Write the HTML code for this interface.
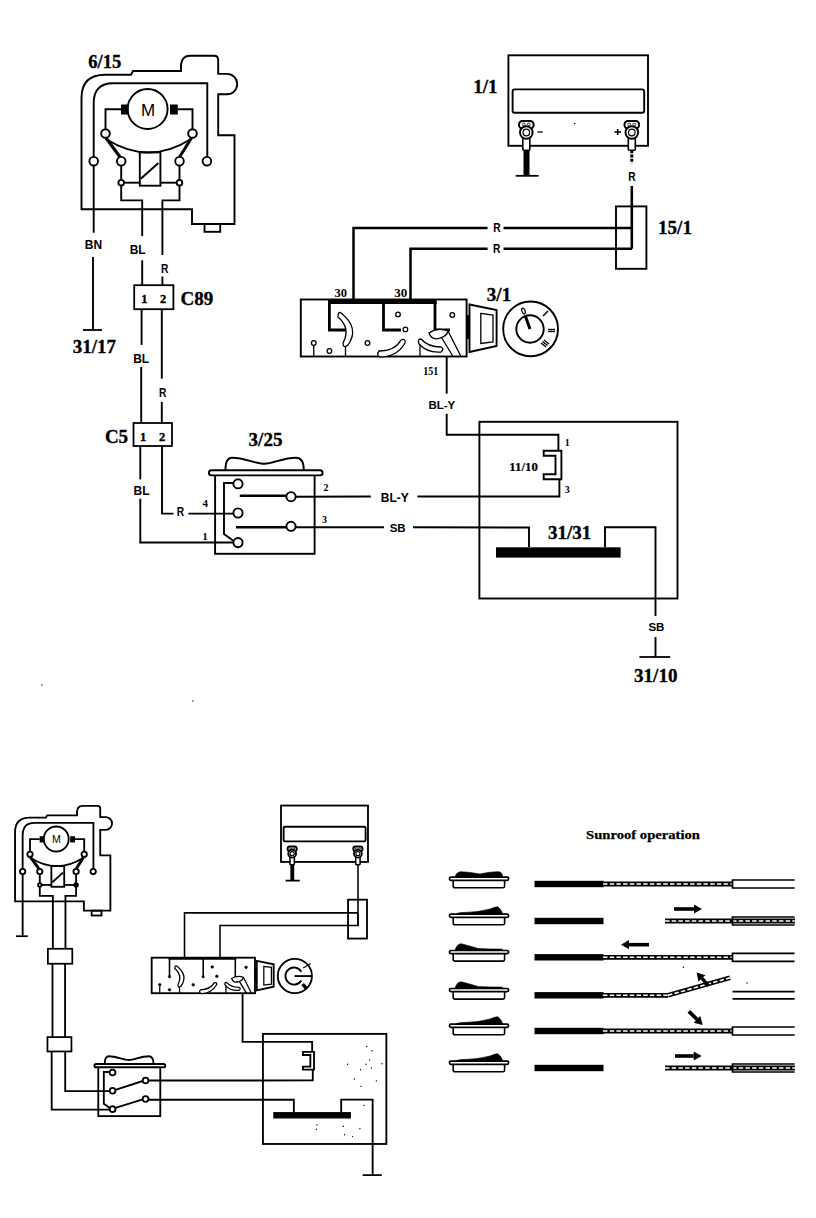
<!DOCTYPE html>
<html><head><meta charset="utf-8"><style>html,body{margin:0;padding:0;background:#fff;}svg{display:block;}</style></head>
<body><svg width="816" height="1218" viewBox="0 0 816 1218">
<rect width="816" height="1218" fill="#fff"/>
<path d="M81.5,209.2 V98 Q81.5,74.8 105,74.8 H131 L133,71 H181 V64.6 Q182,55.8 190,55.8 H214 Q218.2,55.8 218.2,60 V73.9 H227 A10.2,10.2 0 0 1 227,94.3 H218.2 V135.2 H234.5 V224 H192 V209.2 Z" fill="none" stroke="#000" stroke-width="1.9" />
<rect x="204.5" y="224" width="15.7" height="7.8" rx="0" fill="none" stroke="#000" stroke-width="1.9"/>
<path d="M93.7,156.9 V103 Q93.7,83.2 113,83.2 H207.3 V156.9" fill="none" stroke="#000" stroke-width="1.9" />
<circle cx="147.6" cy="109" r="20" fill="#fff" stroke="#000" stroke-width="1.9"/>
<text x="148" y="115.5" font-family="Liberation Sans" font-size="17" text-anchor="middle">M</text>
<rect x="121" y="104.5" width="7.5" height="10" fill="#000"/>
<rect x="170" y="104.5" width="7.8" height="10" fill="#000"/>
<path d="M121,109.2 L105.5,109.2 L105.5,129.2" fill="none" stroke="#000" stroke-width="1.9" />
<path d="M177.8,109.2 L192.5,109.2 L192.5,129.2" fill="none" stroke="#000" stroke-width="1.9" />
<path d="M106,138 L120,157" fill="none" stroke="#000" stroke-width="3" />
<path d="M191.5,138 L179.5,157" fill="none" stroke="#000" stroke-width="3" />
<path d="M106,139 Q148.6,166 191,139" fill="none" stroke="#000" stroke-width="1.9" />
<circle cx="105.5" cy="133.5" r="4.3" fill="#fff" stroke="#000" stroke-width="1.9"/>
<circle cx="192.5" cy="133.5" r="4.3" fill="#fff" stroke="#000" stroke-width="1.9"/>
<circle cx="93.7" cy="161.2" r="4.3" fill="#fff" stroke="#000" stroke-width="1.9"/>
<circle cx="121.2" cy="161.2" r="4.3" fill="#fff" stroke="#000" stroke-width="1.9"/>
<circle cx="179.5" cy="161.2" r="4.3" fill="#fff" stroke="#000" stroke-width="1.9"/>
<circle cx="206.9" cy="161.2" r="4.3" fill="#fff" stroke="#000" stroke-width="1.9"/>
<rect x="139.8" y="152.4" width="20.6" height="33.3" rx="0" fill="none" stroke="#000" stroke-width="1.9"/>
<path d="M140.8,178.8 L158.4,163" fill="none" stroke="#000" stroke-width="1.9" />
<path d="M121.2,165.5 L121.2,180" fill="none" stroke="#000" stroke-width="1.9" />
<path d="M179.5,165.5 L179.5,180" fill="none" stroke="#000" stroke-width="1.9" />
<path d="M124,182.7 L139.8,182.7" fill="none" stroke="#000" stroke-width="1.9" />
<path d="M160.4,182.7 L177,182.7" fill="none" stroke="#000" stroke-width="1.9" />
<circle cx="121.2" cy="182.7" r="2.8" fill="#fff" stroke="#000" stroke-width="1.9"/>
<circle cx="179.5" cy="182.7" r="2.8" fill="#fff" stroke="#000" stroke-width="1.9"/>
<path d="M121.2,185.5 L121.2,200.4 L142.2,200.4 L142.2,236" fill="none" stroke="#000" stroke-width="1.9" />
<path d="M179.5,185.5 L179.5,200.4 L162.4,200.4 L162.4,255" fill="none" stroke="#000" stroke-width="1.9" />
<path d="M93.7,165.5 L93.7,232.7" fill="none" stroke="#000" stroke-width="1.9" />
<path d="M93,257 L93,330" fill="none" stroke="#000" stroke-width="1.9" />
<text x="93.5" y="248.9" font-family="Liberation Sans" font-size="12" font-weight="bold" text-anchor="middle" >BN</text>
<path d="M83,330 L102,330" fill="none" stroke="#000" stroke-width="1.8" />
<text x="94.3" y="352.5" font-family="Liberation Serif" font-size="19" font-weight="bold" text-anchor="middle" stroke="#000" stroke-width="0.35">31/17</text>
<text x="104.7" y="67.6" font-family="Liberation Serif" font-size="18.5" font-weight="bold" text-anchor="middle" stroke="#000" stroke-width="0.35">6/15</text>
<text x="137.7" y="254.3" font-family="Liberation Sans" font-size="12" font-weight="bold" text-anchor="middle" >BL</text>
<text x="164.6" y="272.9" font-family="Liberation Sans" font-size="12" font-weight="bold" text-anchor="middle" textLength="7.4" lengthAdjust="spacingAndGlyphs">R</text>
<path d="M142.2,260.3 L142.2,285.2" fill="none" stroke="#000" stroke-width="1.9" />
<path d="M162.4,276.5 L162.4,285.2" fill="none" stroke="#000" stroke-width="1.9" />
<rect x="134.2" y="285.2" width="39.2" height="24" rx="0" fill="none" stroke="#000" stroke-width="1.8"/>
<text x="144.3" y="303" font-family="Liberation Serif" font-size="12.5" font-weight="bold" text-anchor="middle" stroke="#000" stroke-width="0.35">1</text>
<text x="163" y="303" font-family="Liberation Serif" font-size="12.5" font-weight="bold" text-anchor="middle" stroke="#000" stroke-width="0.35">2</text>
<text x="196.8" y="304.5" font-family="Liberation Serif" font-size="19" font-weight="bold" text-anchor="middle" stroke="#000" stroke-width="0.35">C89</text>
<path d="M141.6,309.2 L141.6,344.9" fill="none" stroke="#000" stroke-width="1.9" />
<path d="M141.2,367 L141.2,423" fill="none" stroke="#000" stroke-width="1.9" />
<path d="M161.8,309.2 L161.8,378.7" fill="none" stroke="#000" stroke-width="1.9" />
<path d="M161.8,402 L161.8,423" fill="none" stroke="#000" stroke-width="1.9" />
<text x="141.2" y="362.7" font-family="Liberation Sans" font-size="12" font-weight="bold" text-anchor="middle" >BL</text>
<text x="162.6" y="396.7" font-family="Liberation Sans" font-size="12" font-weight="bold" text-anchor="middle" textLength="7.4" lengthAdjust="spacingAndGlyphs">R</text>
<rect x="133.5" y="423" width="38.5" height="23" rx="0" fill="none" stroke="#000" stroke-width="1.8"/>
<text x="143" y="440.5" font-family="Liberation Serif" font-size="12.5" font-weight="bold" text-anchor="middle" stroke="#000" stroke-width="0.35">1</text>
<text x="162" y="440.5" font-family="Liberation Serif" font-size="12.5" font-weight="bold" text-anchor="middle" stroke="#000" stroke-width="0.35">2</text>
<text x="116.5" y="442.5" font-family="Liberation Serif" font-size="19" font-weight="bold" text-anchor="middle" stroke="#000" stroke-width="0.35">C5</text>
<path d="M140.3,446 L140.3,479.4" fill="none" stroke="#000" stroke-width="1.9" />
<path d="M140.3,498.7 L140.3,542.5 L233,542.5" fill="none" stroke="#000" stroke-width="1.9" />
<path d="M162,446 L162,513.6 L173.5,513.6" fill="none" stroke="#000" stroke-width="1.9" />
<path d="M188.4,513.6 L233,513.6" fill="none" stroke="#000" stroke-width="1.9" />
<text x="141.5" y="494.8" font-family="Liberation Sans" font-size="12" font-weight="bold" text-anchor="middle" >BL</text>
<text x="180.4" y="516.3" font-family="Liberation Sans" font-size="12" font-weight="bold" text-anchor="middle" textLength="7.4" lengthAdjust="spacingAndGlyphs">R</text>
<text x="205.2" y="507" font-family="Liberation Serif" font-size="11" font-weight="bold" text-anchor="middle" >4</text>
<text x="205" y="540" font-family="Liberation Serif" font-size="11" font-weight="bold" text-anchor="middle" >1</text>
<text x="265.5" y="445.5" font-family="Liberation Serif" font-size="19" font-weight="bold" text-anchor="middle" stroke="#000" stroke-width="0.35">3/25</text>
<rect x="215.1" y="474" width="99.5" height="79.8" rx="0" fill="none" stroke="#000" stroke-width="1.9"/>
<path d="M211.5,470.2 H320 Q322.6,470.2 322.6,472.8 Q322.6,475.4 320,475.4 H211.5 Q208.9,475.4 208.9,472.8 Q208.9,470.2 211.5,470.2 Z" fill="#fff" stroke="#000" stroke-width="1.9" />
<path d="M225.4,470.2 C225.4,462 227,457.7 232,457.7 C245,457.7 255,463.7 264.3,463.7 C273,463.7 283,457.7 296,457.7 C301,457.7 303.8,462 303.8,470.2" fill="none" stroke="#000" stroke-width="1.9" />
<path d="M239.8,495.8 L286,495.8" fill="none" stroke="#000" stroke-width="2.6" />
<path d="M236,527.2 L286,527.2" fill="none" stroke="#000" stroke-width="2.6" />
<path d="M233.4,483 L224,483 L224,534 L233,540.5" fill="none" stroke="#000" stroke-width="1.9" />
<circle cx="238" cy="483.8" r="4.6" fill="#fff" stroke="#000" stroke-width="1.9"/>
<circle cx="238" cy="513" r="4.6" fill="#fff" stroke="#000" stroke-width="1.9"/>
<circle cx="238" cy="542.6" r="4.6" fill="#fff" stroke="#000" stroke-width="1.9"/>
<circle cx="291" cy="496.7" r="4.6" fill="#fff" stroke="#000" stroke-width="1.9"/>
<circle cx="291" cy="526.3" r="4.6" fill="#fff" stroke="#000" stroke-width="1.9"/>
<text x="326" y="491" font-family="Liberation Serif" font-size="10" font-weight="bold" text-anchor="middle" >2</text>
<text x="324.4" y="523" font-family="Liberation Serif" font-size="10" font-weight="bold" text-anchor="middle" >3</text>
<path d="M295.6,496.7 L370.8,496.5" fill="none" stroke="#000" stroke-width="1.9" />
<path d="M417.4,496.5 L559.4,496.5 L559.4,479.2" fill="none" stroke="#000" stroke-width="1.9" />
<path d="M295.6,527.3 L384,527.3" fill="none" stroke="#000" stroke-width="1.9" />
<path d="M413,527.3 L529,527.5 L529,547" fill="none" stroke="#000" stroke-width="1.9" />
<text x="394.8" y="502" font-family="Liberation Sans" font-size="12" font-weight="bold" text-anchor="middle" >BL-Y</text>
<text x="397.7" y="532" font-family="Liberation Sans" font-size="11.5" font-weight="bold" text-anchor="middle" >SB</text>
<rect x="479.4" y="421.8" width="198.1" height="176.7" rx="0" fill="none" stroke="#000" stroke-width="1.9"/>
<rect x="496" y="547.3" width="124.6" height="10.3" fill="#000"/>
<text x="569.6" y="539.4" font-family="Liberation Serif" font-size="19" font-weight="bold" text-anchor="middle" stroke="#000" stroke-width="0.35">31/31</text>
<path d="M605,547 L605,527.3 L655.5,527.3 L655.5,615.9" fill="none" stroke="#000" stroke-width="1.9" />
<path d="M655.5,637 L655.5,657" fill="none" stroke="#000" stroke-width="1.9" />
<text x="656.4" y="630.6" font-family="Liberation Sans" font-size="11.5" font-weight="bold" text-anchor="middle" >SB</text>
<path d="M639.4,657 L670.2,657" fill="none" stroke="#000" stroke-width="1.8" />
<text x="655.75" y="682.2" font-family="Liberation Serif" font-size="19" font-weight="bold" text-anchor="middle" stroke="#000" stroke-width="0.35">31/10</text>
<path d="M446.7,356.5 L446.7,393.6" fill="none" stroke="#000" stroke-width="1.9" />
<path d="M446.7,413.8 L446.7,434.7 L558.4,434.7 L558.4,450.8" fill="none" stroke="#000" stroke-width="1.9" />
<text x="441.8" y="409.4" font-family="Liberation Sans" font-size="11.5" font-weight="bold" text-anchor="middle" >BL-Y</text>
<path d="M543.7,450.8 H561.4 V479.2 H543.7 V474.3 H555.5 V455.7 H543.7 Z" fill="none" stroke="#000" stroke-width="1.9" />
<text x="567.3" y="446" font-family="Liberation Serif" font-size="10" font-weight="bold" text-anchor="middle" >1</text>
<text x="567.3" y="493" font-family="Liberation Serif" font-size="10" font-weight="bold" text-anchor="middle" >3</text>
<text x="523.6" y="471.4" font-family="Liberation Serif" font-size="12.5" font-weight="bold" text-anchor="middle" textLength="28.5" lengthAdjust="spacingAndGlyphs" stroke="#000" stroke-width="0.2">11/10</text>
<rect x="508.4" y="55.3" width="139.6" height="90.5" rx="0" fill="none" stroke="#000" stroke-width="1.9"/>
<rect x="512.6" y="89.4" width="131.6" height="23.3" rx="2" fill="none" stroke="#000" stroke-width="1.9"/>
<text x="485.3" y="92.6" font-family="Liberation Serif" font-size="19" font-weight="bold" text-anchor="middle" stroke="#000" stroke-width="0.35">1/1</text>
<path d="M526.5,148 L526.5,175.4" fill="none" stroke="#000" stroke-width="6" />
<path d="M515.7,175.8 L538.5,175.8" fill="none" stroke="#000" stroke-width="1.8" />
<rect x="519" y="121" width="14.6" height="7.5" rx="3.5" fill="#fff" stroke="#000" stroke-width="2"/>
<circle cx="523.8" cy="124.5" r="1.4" fill="#fff" stroke="#000" stroke-width="0.8"/>
<circle cx="528.8" cy="124.5" r="1.4" fill="#fff" stroke="#000" stroke-width="0.8"/>
<rect x="522.8" y="138" width="7" height="12.3" rx="1" fill="#fff" stroke="#000" stroke-width="1.6"/>
<circle cx="526.3" cy="132.5" r="6.3" fill="#fff" stroke="#000" stroke-width="1.9"/>
<circle cx="526.3" cy="132.5" r="3.3" fill="#fff" stroke="#000" stroke-width="1.2"/>
<rect x="624.5" y="121" width="14.6" height="7.5" rx="3.5" fill="#fff" stroke="#000" stroke-width="2"/>
<circle cx="629.3" cy="124.5" r="1.4" fill="#fff" stroke="#000" stroke-width="0.8"/>
<circle cx="634.3" cy="124.5" r="1.4" fill="#fff" stroke="#000" stroke-width="0.8"/>
<rect x="628.3" y="138" width="7" height="12.3" rx="1" fill="#fff" stroke="#000" stroke-width="1.6"/>
<circle cx="631.8" cy="132.5" r="6.3" fill="#fff" stroke="#000" stroke-width="1.9"/>
<circle cx="631.8" cy="132.5" r="3.3" fill="#fff" stroke="#000" stroke-width="1.2"/>
<path d="M537.5,132 L542.8,132" fill="none" stroke="#000" stroke-width="1.3" />
<path d="M614.5,132 L621,132" fill="none" stroke="#000" stroke-width="1.6" />
<path d="M617.7,129 L617.7,135" fill="none" stroke="#000" stroke-width="1.6" />
<path d="M631.8,150.3 L631.8,163.2" fill="none" stroke="#000" stroke-width="3" stroke-dasharray="3,1.2"/>
<path d="M631.8,186 L631.8,248.7" fill="none" stroke="#000" stroke-width="2.6" />
<text x="632" y="180.5" font-family="Liberation Sans" font-size="12" font-weight="bold" text-anchor="middle" textLength="7.4" lengthAdjust="spacingAndGlyphs">R</text>
<rect x="616" y="206.4" width="30.4" height="62.4" rx="0" fill="none" stroke="#000" stroke-width="1.9"/>
<text x="675" y="233.8" font-family="Liberation Serif" font-size="19" font-weight="bold" text-anchor="middle" stroke="#000" stroke-width="0.35">15/1</text>
<path d="M353.5,301 L353.5,228 L487.6,228" fill="none" stroke="#000" stroke-width="2.5" />
<path d="M503.5,228 L632,228" fill="none" stroke="#000" stroke-width="2.5" />
<path d="M410.5,301 L410.5,248.8 L487.6,248.8" fill="none" stroke="#000" stroke-width="2.5" />
<path d="M503.5,248.8 L632,248.8" fill="none" stroke="#000" stroke-width="2.5" />
<text x="496.9" y="232" font-family="Liberation Sans" font-size="12" font-weight="bold" text-anchor="middle" textLength="7.4" lengthAdjust="spacingAndGlyphs">R</text>
<text x="496.7" y="252.5" font-family="Liberation Sans" font-size="12" font-weight="bold" text-anchor="middle" textLength="7.4" lengthAdjust="spacingAndGlyphs">R</text>
<text x="340.8" y="296.7" font-family="Liberation Serif" font-size="11.5" font-weight="bold" text-anchor="middle" textLength="12.5" lengthAdjust="spacingAndGlyphs">30</text>
<text x="400.8" y="296.7" font-family="Liberation Serif" font-size="11.5" font-weight="bold" text-anchor="middle" textLength="13" lengthAdjust="spacingAndGlyphs">30</text>
<rect x="300.8" y="299.5" width="165.8" height="57" rx="0" fill="none" stroke="#000" stroke-width="1.9"/>
<path d="M328,302 L436.7,302" fill="none" stroke="#000" stroke-width="4" />
<path d="M329.4,302 L329.4,330 L347,330" fill="none" stroke="#000" stroke-width="2.8" />
<path d="M383.5,302 L383.5,330 L401,330" fill="none" stroke="#000" stroke-width="2.8" />
<path d="M435,302 L435,330 L450,330" fill="none" stroke="#000" stroke-width="2.8" />
<circle cx="398" cy="314.4" r="2.3" fill="#fff" stroke="#000" stroke-width="1.3"/>
<circle cx="452.3" cy="315" r="2.3" fill="#fff" stroke="#000" stroke-width="1.3"/>
<circle cx="405.4" cy="329.4" r="2.3" fill="#fff" stroke="#000" stroke-width="1.3"/>
<circle cx="367.5" cy="343" r="2.3" fill="#fff" stroke="#000" stroke-width="1.3"/>
<circle cx="329.4" cy="351" r="2.3" fill="#fff" stroke="#000" stroke-width="1.3"/>
<circle cx="313.75" cy="343" r="2.3" fill="#fff" stroke="#000" stroke-width="1.3"/>
<path d="M313.75,345.3 L313.75,356.5" fill="none" stroke="#000" stroke-width="1.3" />
<path d="M341,313 Q360,328 348,345 Q343,349 343,343 Q351,328 338,317 Q338,311 341,313 Z" fill="#fff" stroke="#000" stroke-width="1.3" />
<path d="M345.5,346 L345.5,356.5" fill="none" stroke="#000" stroke-width="1.3" />
<path d="M379,351 Q395,351 401,340 Q406,338 405,343 Q397,357 380,357 Q376,355 379,351 Z" fill="#fff" stroke="#000" stroke-width="1.3" />
<path d="M421,339 Q428,347 441,347 Q445,349 441,352 Q427,353 419,344 Q417,339 421,339 Z" fill="#fff" stroke="#000" stroke-width="1.3" />
<path d="M440,335 L453,356.5 M448,331 L461,356.5" fill="none" stroke="#000" stroke-width="1.3" />
<path d="M429,333 Q432,341 440,338 Q447,336 448,331 Q438,327 429,333 Z" fill="#fff" stroke="#000" stroke-width="1.3" />
<path d="M420,344 L420,356.5" fill="none" stroke="#000" stroke-width="1.3" />
<text x="430.7" y="374.9" font-family="Liberation Serif" font-size="11.5" font-weight="bold" text-anchor="middle" textLength="15" lengthAdjust="spacingAndGlyphs">151</text>
<rect x="466" y="315" width="3.5" height="24" fill="#000"/>
<path d="M469.5,304.5 L496.6,310 V346 L469.5,352 Z" fill="none" stroke="#000" stroke-width="1.9" />
<path d="M480.8,313.4 L493,315 V342 L480.8,343.5 Z" fill="none" stroke="#000" stroke-width="1.3" />
<circle cx="530.6" cy="328.9" r="27.4" fill="#fff" stroke="#000" stroke-width="1.9"/>
<circle cx="530" cy="329" r="13.7" fill="#fff" stroke="#000" stroke-width="1.9"/>
<path d="M530,329 L525.3,316" fill="none" stroke="#000" stroke-width="3" />
<ellipse cx="523.5" cy="311" rx="1.6" ry="3" fill="none" stroke="#000" stroke-width="1.2" transform="rotate(-20 523.5 311)"/>
<path d="M543,316 L548,311" fill="none" stroke="#000" stroke-width="1.4" />
<path d="M548,329.5 L555,329.5" fill="none" stroke="#000" stroke-width="1.4" />
<path d="M548,331.5 L555,331.5" fill="none" stroke="#000" stroke-width="1.4" />
<path d="M541,343 L546,347" fill="none" stroke="#000" stroke-width="1.4" />
<path d="M542.5,341.5 L547.5,345.5" fill="none" stroke="#000" stroke-width="1.4" />
<path d="M544,340 L549,344" fill="none" stroke="#000" stroke-width="1.4" />
<text x="499" y="300.6" font-family="Liberation Serif" font-size="19" font-weight="bold" text-anchor="middle" stroke="#000" stroke-width="0.35">3/1</text>
<g transform="translate(-35.72,771.1) scale(0.623)">
<path d="M81.5,209.2 V98 Q81.5,74.8 105,74.8 H131 L133,71 H181 V64.6 Q182,55.8 190,55.8 H214 Q218.2,55.8 218.2,60 V73.9 H227 A10.2,10.2 0 0 1 227,94.3 H218.2 V135.2 H234.5 V224 H192 V209.2 Z" fill="none" stroke="#000" stroke-width="2.96" />
<rect x="204.5" y="224" width="15.7" height="7.8" rx="0" fill="none" stroke="#000" stroke-width="2.96"/>
<path d="M93.7,156.9 V103 Q93.7,83.2 113,83.2 H207.3 V156.9" fill="none" stroke="#000" stroke-width="2.96" />
<circle cx="147.6" cy="109" r="20" fill="#fff" stroke="#000" stroke-width="2.96"/>
<text x="148" y="115.5" font-family="Liberation Sans" font-size="17" text-anchor="middle">M</text>
<rect x="121" y="104.5" width="7.5" height="10" fill="#000"/>
<rect x="170" y="104.5" width="7.8" height="10" fill="#000"/>
<path d="M121,109.2 L105.5,109.2 L105.5,129.2" fill="none" stroke="#000" stroke-width="2.96" />
<path d="M177.8,109.2 L192.5,109.2 L192.5,129.2" fill="none" stroke="#000" stroke-width="2.96" />
<path d="M106,138 L120,157" fill="none" stroke="#000" stroke-width="4.68" />
<path d="M191.5,138 L179.5,157" fill="none" stroke="#000" stroke-width="4.68" />
<path d="M106,139 Q148.6,166 191,139" fill="none" stroke="#000" stroke-width="2.96" />
<circle cx="105.5" cy="133.5" r="4.3" fill="#fff" stroke="#000" stroke-width="2.96"/>
<circle cx="192.5" cy="133.5" r="4.3" fill="#fff" stroke="#000" stroke-width="2.96"/>
<circle cx="93.7" cy="161.2" r="4.3" fill="#fff" stroke="#000" stroke-width="2.96"/>
<circle cx="121.2" cy="161.2" r="4.3" fill="#fff" stroke="#000" stroke-width="2.96"/>
<circle cx="179.5" cy="161.2" r="4.3" fill="#fff" stroke="#000" stroke-width="2.96"/>
<circle cx="206.9" cy="161.2" r="4.3" fill="#fff" stroke="#000" stroke-width="2.96"/>
<rect x="139.8" y="152.4" width="20.6" height="33.3" rx="0" fill="none" stroke="#000" stroke-width="2.96"/>
<path d="M140.8,178.8 L158.4,163" fill="none" stroke="#000" stroke-width="2.96" />
<path d="M121.2,165.5 L121.2,180" fill="none" stroke="#000" stroke-width="2.96" />
<path d="M179.5,165.5 L179.5,180" fill="none" stroke="#000" stroke-width="2.96" />
<path d="M124,182.7 L139.8,182.7" fill="none" stroke="#000" stroke-width="2.96" />
<path d="M160.4,182.7 L177,182.7" fill="none" stroke="#000" stroke-width="2.96" />
<circle cx="121.2" cy="182.7" r="2.8" fill="#fff" stroke="#000" stroke-width="2.96"/>
<circle cx="179.5" cy="182.7" r="2.8" fill="#000" stroke="#000" stroke-width="2.96"/>
<path d="M121.2,185.5 L121.2,200.4 L142.2,200.4 L142.2,285.2" fill="none" stroke="#000" stroke-width="2.96" />
<path d="M179.5,185.5 L179.5,200.4 L162.4,200.4 L162.4,285.2" fill="none" stroke="#000" stroke-width="2.96" />
<path d="M93.7,165.5 L93.7,265" fill="none" stroke="#000" stroke-width="2.96" />
<path d="M83,265 L102,265" fill="none" stroke="#000" stroke-width="2.81" />
<rect x="134.2" y="285.2" width="39.2" height="24" rx="0" fill="none" stroke="#000" stroke-width="2.81"/>
<path d="M141.6,309.2 L141.6,427" fill="none" stroke="#000" stroke-width="2.96" />
<path d="M161.8,309.2 L161.8,427" fill="none" stroke="#000" stroke-width="2.96" />
<rect x="133.5" y="427" width="38.5" height="23" rx="0" fill="none" stroke="#000" stroke-width="2.81"/>
<path d="M140.3,450 L140.3,543.5 L233,543.5" fill="none" stroke="#000" stroke-width="2.96" />
<path d="M162,450 L162,513.8 L233,513.8" fill="none" stroke="#000" stroke-width="2.96" />
<rect x="215.1" y="474" width="99.5" height="79.8" rx="0" fill="none" stroke="#000" stroke-width="2.96"/>
<path d="M211.5,470.2 H320 Q322.6,470.2 322.6,472.8 Q322.6,475.4 320,475.4 H211.5 Q208.9,475.4 208.9,472.8 Q208.9,470.2 211.5,470.2 Z" fill="#fff" stroke="#000" stroke-width="2.96" />
<path d="M225.4,470.2 C225.4,462 227,457.7 232,457.7 C245,457.7 255,463.7 264.3,463.7 C273,463.7 283,457.7 296,457.7 C301,457.7 303.8,462 303.8,470.2" fill="none" stroke="#000" stroke-width="2.96" />
<path d="M241.5,512 L286.5,497.5" fill="none" stroke="#000" stroke-width="3.12" />
<path d="M241.5,541 L286.5,527" fill="none" stroke="#000" stroke-width="3.12" />
<path d="M233.4,483 L224,483 L224,534 L233,540.5" fill="none" stroke="#000" stroke-width="2.96" />
<circle cx="238" cy="483.8" r="4.6" fill="#fff" stroke="#000" stroke-width="2.96"/>
<circle cx="238" cy="513" r="4.6" fill="#fff" stroke="#000" stroke-width="2.96"/>
<circle cx="238" cy="542.6" r="4.6" fill="#fff" stroke="#000" stroke-width="2.96"/>
<circle cx="291" cy="496.7" r="4.6" fill="#fff" stroke="#000" stroke-width="2.96"/>
<circle cx="291" cy="526.3" r="4.6" fill="#fff" stroke="#000" stroke-width="2.96"/>
<path d="M295.6,496.7 L559.4,496.5 L559.4,479.2" fill="none" stroke="#000" stroke-width="2.96" />
<path d="M295.6,527.5 L529,527.5 L529,547" fill="none" stroke="#000" stroke-width="2.96" />
<rect x="479.4" y="421.8" width="198.1" height="176.7" rx="0" fill="none" stroke="#000" stroke-width="2.96"/>
<rect x="496" y="547.3" width="124.6" height="10.3" fill="#000"/>
<path d="M605,547 L605,527.3 L655.5,527.3 L655.5,648.5" fill="none" stroke="#000" stroke-width="2.96" />
<path d="M639.4,648.5 L670.2,648.5" fill="none" stroke="#000" stroke-width="2.81" />
<path d="M446.7,356.5 L446.7,434.7 L558.4,434.7 L558.4,450.8" fill="none" stroke="#000" stroke-width="2.96" />
<path d="M543.7,450.8 H561.4 V479.2 H543.7 V474.3 H555.5 V455.7 H543.7 Z" fill="none" stroke="#000" stroke-width="2.96" />
<rect x="508.4" y="55.3" width="139.6" height="90.5" rx="0" fill="none" stroke="#000" stroke-width="2.96"/>
<rect x="512.6" y="89.4" width="131.6" height="23.3" rx="2" fill="none" stroke="#000" stroke-width="2.96"/>
<path d="M526.5,148 L526.5,175.4" fill="none" stroke="#000" stroke-width="6.24" />
<path d="M515.7,175.8 L538.5,175.8" fill="none" stroke="#000" stroke-width="2.81" />
<rect x="519" y="121" width="14.6" height="7.5" rx="3.5" fill="#fff" stroke="#000" stroke-width="3.12"/>
<circle cx="523.8" cy="124.5" r="1.4" fill="#fff" stroke="#000" stroke-width="1.25"/>
<circle cx="528.8" cy="124.5" r="1.4" fill="#fff" stroke="#000" stroke-width="1.25"/>
<rect x="522.8" y="138" width="7" height="12.3" rx="1" fill="#fff" stroke="#000" stroke-width="2.5"/>
<circle cx="526.3" cy="132.5" r="6.3" fill="#fff" stroke="#000" stroke-width="2.96"/>
<circle cx="526.3" cy="132.5" r="3.3" fill="#fff" stroke="#000" stroke-width="1.87"/>
<rect x="624.5" y="121" width="14.6" height="7.5" rx="3.5" fill="#fff" stroke="#000" stroke-width="3.12"/>
<circle cx="629.3" cy="124.5" r="1.4" fill="#fff" stroke="#000" stroke-width="1.25"/>
<circle cx="634.3" cy="124.5" r="1.4" fill="#fff" stroke="#000" stroke-width="1.25"/>
<rect x="628.3" y="138" width="7" height="12.3" rx="1" fill="#fff" stroke="#000" stroke-width="2.5"/>
<circle cx="631.8" cy="132.5" r="6.3" fill="#fff" stroke="#000" stroke-width="2.96"/>
<circle cx="631.8" cy="132.5" r="3.3" fill="#fff" stroke="#000" stroke-width="1.87"/>
<path d="M632,150.3 L632,248.7" fill="none" stroke="#000" stroke-width="2.5" />
<rect x="616" y="206.4" width="30.4" height="62.4" rx="0" fill="none" stroke="#000" stroke-width="2.96"/>
<path d="M353.5,301 L353.5,227.6 L632,227.6" fill="none" stroke="#000" stroke-width="2.5" />
<path d="M410.5,301 L410.5,247.8 L632,247.8 L632,228" fill="none" stroke="#000" stroke-width="2.5" />
<rect x="300.8" y="299.5" width="165.8" height="57" rx="0" fill="none" stroke="#000" stroke-width="2.96"/>
<path d="M328,301 L436.7,301" fill="none" stroke="#000" stroke-width="3.9" />
<path d="M329.4,301 L329.4,330" fill="none" stroke="#000" stroke-width="2.5" />
<circle cx="329.4" cy="330" r="2" fill="#000" stroke="#000" stroke-width="0.78"/>
<path d="M383.5,301 L383.5,330" fill="none" stroke="#000" stroke-width="2.5" />
<circle cx="383.5" cy="330" r="2" fill="#000" stroke="#000" stroke-width="0.78"/>
<path d="M435,301 L435,333" fill="none" stroke="#000" stroke-width="2.5" />
<circle cx="435" cy="333" r="2" fill="#000" stroke="#000" stroke-width="0.78"/>
<circle cx="398" cy="314.4" r="2.1" fill="#000" stroke="#000" stroke-width="0.94"/>
<circle cx="452.3" cy="315" r="2.1" fill="#000" stroke="#000" stroke-width="0.94"/>
<circle cx="405.4" cy="329.4" r="2.1" fill="#000" stroke="#000" stroke-width="0.94"/>
<circle cx="367.5" cy="343" r="2.1" fill="#000" stroke="#000" stroke-width="0.94"/>
<circle cx="329.4" cy="351" r="2.1" fill="#000" stroke="#000" stroke-width="0.94"/>
<circle cx="313.75" cy="343" r="2.1" fill="#000" stroke="#000" stroke-width="0.94"/>
<path d="M313.75,345.3 L313.75,356.5" fill="none" stroke="#000" stroke-width="2.03" />
<path d="M341,313 Q360,328 348,345 Q343,349 343,343 Q351,328 338,317 Q338,311 341,313 Z" fill="#fff" stroke="#000" stroke-width="2.03" />
<path d="M345.5,346 L345.5,356.5" fill="none" stroke="#000" stroke-width="2.03" />
<path d="M379,351 Q395,351 401,340 Q406,338 405,343 Q397,357 380,357 Q376,355 379,351 Z" fill="#fff" stroke="#000" stroke-width="2.03" />
<path d="M421,339 Q428,347 441,347 Q445,349 441,352 Q427,353 419,344 Q417,339 421,339 Z" fill="#fff" stroke="#000" stroke-width="2.03" />
<path d="M440,335 L453,356.5 M448,331 L461,356.5" fill="none" stroke="#000" stroke-width="2.03" />
<path d="M429,333 Q432,341 440,338 Q447,336 448,331 Q438,327 429,333 Z" fill="#fff" stroke="#000" stroke-width="2.03" />
<path d="M420,344 L420,356.5" fill="none" stroke="#000" stroke-width="2.03" />
<rect x="466" y="315" width="3.5" height="24" fill="#000"/>
<path d="M469.5,304.5 L496.6,310 V346 L469.5,352 Z" fill="none" stroke="#000" stroke-width="2.96" />
<path d="M480.8,313.4 L493,315 V342 L480.8,343.5 Z" fill="none" stroke="#000" stroke-width="2.03" />
<circle cx="530.6" cy="328.9" r="27.4" fill="#fff" stroke="#000" stroke-width="2.96"/>
<path d="M541,322 A13.7,13.7 0 1 0 541,336" fill="none" stroke="#000" stroke-width="2.96" />
<path d="M530,329 L557,329" fill="none" stroke="#000" stroke-width="2.96" />
<path d="M543,342 L550,350" fill="none" stroke="#000" stroke-width="5.46" />
<path d="M544,316 L556,309" fill="none" stroke="#000" stroke-width="1.87" />
</g>
<text x="643" y="839" font-family="Liberation Serif" font-size="13.5" font-weight="bold" text-anchor="middle" textLength="114" lengthAdjust="spacingAndGlyphs" stroke="#000" stroke-width="0.25">Sunroof operation</text>
<path d="M453.2,880.4 V886.3 Q453.2,887.8 455,887.8 H503 Q504.6,887.8 504.6,886.3 V880.4" fill="none" stroke="#000" stroke-width="1.6" />
<path d="M455,877.2 Q456,872 461,871.7 Q470,872 480,874 Q492,871.5 499,871.7 Q502,872 503,877.2 Z" fill="#000" stroke="#000" stroke-width="0.6" />
<path d="M451,877.2 H507 Q508.6,877.2 508.6,878.8 Q508.6,880.4 507,880.4 H451 Q449.4,880.4 449.4,878.8 Q449.4,877.2 451,877.2 Z" fill="#fff" stroke="#000" stroke-width="1.7" />
<rect x="534.5" y="880.8" width="69" height="6.4" fill="#000"/>
<line x1="603" y1="884" x2="732.5" y2="884" stroke="#000" stroke-width="4.8"/>
<line x1="603" y1="884" x2="732.5" y2="884" stroke="#fff" stroke-width="1.6" stroke-dasharray="4.5,2.2"/>
<path d="M794.6,880 H732.5 V888 H794.6" fill="none" stroke="#000" stroke-width="1.7" />
<path d="M453.2,917.4 V923.3 Q453.2,924.8 455,924.8 H503 Q504.6,924.8 504.6,923.3 V917.4" fill="none" stroke="#000" stroke-width="1.6" />
<path d="M456,914.2 Q457,912.8 462,912.6 Q478,912.4 490,909 Q496,906.5 498,906.8 Q501,909 503,914.2 Z" fill="#000" stroke="#000" stroke-width="0.6" />
<path d="M451,914.2 H507 Q508.6,914.2 508.6,915.8 Q508.6,917.4 507,917.4 H451 Q449.4,917.4 449.4,915.8 Q449.4,914.2 451,914.2 Z" fill="#fff" stroke="#000" stroke-width="1.7" />
<rect x="534.5" y="917.8" width="69" height="6.4" fill="#000"/>
<line x1="665" y1="921" x2="795" y2="921" stroke="#000" stroke-width="4.8"/>
<line x1="665" y1="921" x2="795" y2="921" stroke="#fff" stroke-width="1.6" stroke-dasharray="4.5,2.2"/>
<path d="M794.6,917 H732.5 V925 H794.6" fill="none" stroke="#000" stroke-width="1.7" />
<path d="M453.2,953.6999999999999 V959.5999999999999 Q453.2,961.0999999999999 455,961.0999999999999 H503 Q504.6,961.0999999999999 504.6,959.5999999999999 V953.6999999999999" fill="none" stroke="#000" stroke-width="1.6" />
<path d="M455,950.5 Q457,943.8 461,943.8 Q464,944.3 478,948.5 Q490,949.0999999999999 502,949.0999999999999 L503,950.5 Z" fill="#000" stroke="#000" stroke-width="0.6" />
<path d="M451,950.5 H507 Q508.6,950.5 508.6,952.0999999999999 Q508.6,953.6999999999999 507,953.6999999999999 H451 Q449.4,953.6999999999999 449.4,952.0999999999999 Q449.4,950.5 451,950.5 Z" fill="#fff" stroke="#000" stroke-width="1.7" />
<rect x="534.5" y="954.1" width="69" height="6.4" fill="#000"/>
<line x1="603" y1="957.3" x2="732.5" y2="957.3" stroke="#000" stroke-width="4.8"/>
<line x1="603" y1="957.3" x2="732.5" y2="957.3" stroke="#fff" stroke-width="1.6" stroke-dasharray="4.5,2.2"/>
<path d="M794.6,953.3 H732.5 V961.3 H794.6" fill="none" stroke="#000" stroke-width="1.7" />
<path d="M453.2,991.6999999999999 V997.5999999999999 Q453.2,999.0999999999999 455,999.0999999999999 H503 Q504.6,999.0999999999999 504.6,997.5999999999999 V991.6999999999999" fill="none" stroke="#000" stroke-width="1.6" />
<path d="M455,988.5 Q457,981.8 461,981.8 Q464,982.3 478,986.5 Q490,987.0999999999999 502,987.0999999999999 L503,988.5 Z" fill="#000" stroke="#000" stroke-width="0.6" />
<path d="M451,988.5 H507 Q508.6,988.5 508.6,990.0999999999999 Q508.6,991.6999999999999 507,991.6999999999999 H451 Q449.4,991.6999999999999 449.4,990.0999999999999 Q449.4,988.5 451,988.5 Z" fill="#fff" stroke="#000" stroke-width="1.7" />
<rect x="534.5" y="992.1" width="69" height="6.4" fill="#000"/>
<line x1="603" y1="995.3" x2="668" y2="995.3" stroke="#000" stroke-width="4.8"/>
<line x1="603" y1="995.3" x2="668" y2="995.3" stroke="#fff" stroke-width="1.6" stroke-dasharray="4.5,2.2"/>
<line x1="668" y1="995.3" x2="730" y2="977.8" stroke="#000" stroke-width="4.8"/>
<line x1="668" y1="995.3" x2="730" y2="977.8" stroke="#fff" stroke-width="1.6" stroke-dasharray="4.5,2.2"/>
<path d="M732.5,991.7 L794.6,991.7" fill="none" stroke="#000" stroke-width="1.7" />
<path d="M732.5,998.9 L794.6,998.9" fill="none" stroke="#000" stroke-width="1.7" />
<path d="M453.2,1027.4 V1033.3 Q453.2,1034.8 455,1034.8 H503 Q504.6,1034.8 504.6,1033.3 V1027.4" fill="none" stroke="#000" stroke-width="1.6" />
<path d="M456,1024.2 Q457,1022.8 462,1022.6 Q478,1022.4 490,1019 Q496,1016.5 498,1016.8 Q501,1019 503,1024.2 Z" fill="#000" stroke="#000" stroke-width="0.6" />
<path d="M451,1024.2 H507 Q508.6,1024.2 508.6,1025.8 Q508.6,1027.4 507,1027.4 H451 Q449.4,1027.4 449.4,1025.8 Q449.4,1024.2 451,1024.2 Z" fill="#fff" stroke="#000" stroke-width="1.7" />
<rect x="534.5" y="1027.8" width="69" height="6.4" fill="#000"/>
<line x1="603" y1="1031" x2="732.5" y2="1031" stroke="#000" stroke-width="4.8"/>
<line x1="603" y1="1031" x2="732.5" y2="1031" stroke="#fff" stroke-width="1.6" stroke-dasharray="4.5,2.2"/>
<path d="M794.6,1027 H732.5 V1035 H794.6" fill="none" stroke="#000" stroke-width="1.7" />
<path d="M453.2,1064.4 V1070.3 Q453.2,1071.8 455,1071.8 H503 Q504.6,1071.8 504.6,1070.3 V1064.4" fill="none" stroke="#000" stroke-width="1.6" />
<path d="M456,1061.2 Q457,1059.8 462,1059.6 Q478,1059.4 490,1056 Q496,1053.5 498,1053.8 Q501,1056 503,1061.2 Z" fill="#000" stroke="#000" stroke-width="0.6" />
<path d="M451,1061.2 H507 Q508.6,1061.2 508.6,1062.8 Q508.6,1064.4 507,1064.4 H451 Q449.4,1064.4 449.4,1062.8 Q449.4,1061.2 451,1061.2 Z" fill="#fff" stroke="#000" stroke-width="1.7" />
<rect x="534.5" y="1064.8" width="69" height="6.4" fill="#000"/>
<line x1="665" y1="1068" x2="795" y2="1068" stroke="#000" stroke-width="4.8"/>
<line x1="665" y1="1068" x2="795" y2="1068" stroke="#fff" stroke-width="1.6" stroke-dasharray="4.5,2.2"/>
<path d="M794.6,1064 H732.5 V1072 H794.6" fill="none" stroke="#000" stroke-width="1.7" />
<line x1="674" y1="909" x2="694.0" y2="909.0" stroke="#000" stroke-width="3.6"/>
<path d="M702.0,909.0 L694.0,913.6 L694.0,904.4 Z" fill="#000"/>
<line x1="649" y1="944.7" x2="629.0" y2="944.7" stroke="#000" stroke-width="3.6"/>
<path d="M621.0,944.7 L629.0,940.1 L629.0,949.3 Z" fill="#000"/>
<line x1="708.5" y1="985.7" x2="702.0" y2="978.4" stroke="#000" stroke-width="3.6"/>
<path d="M696.6,972.5 L705.4,975.3 L698.5,981.5 Z" fill="#000"/>
<line x1="688.8" y1="1011.4" x2="697.0" y2="1019.4" stroke="#000" stroke-width="3.6"/>
<path d="M702.7,1025.0 L693.7,1022.7 L700.2,1016.1 Z" fill="#000"/>
<line x1="675" y1="1056" x2="693.7" y2="1056.0" stroke="#000" stroke-width="3.6"/>
<path d="M701.7,1056.0 L693.7,1060.6 L693.7,1051.4 Z" fill="#000"/>
<circle cx="366.6" cy="1046.5" r="0.7" fill="#000"/><circle cx="372" cy="1050.8" r="0.7" fill="#000"/><circle cx="369.7" cy="1060" r="0.7" fill="#000"/><circle cx="366" cy="1064.3" r="0.7" fill="#000"/><circle cx="382" cy="1063.7" r="0.7" fill="#000"/><circle cx="360.5" cy="1069.8" r="0.7" fill="#000"/><circle cx="371.5" cy="1068" r="0.7" fill="#000"/><circle cx="347.6" cy="1064.3" r="0.7" fill="#000"/><circle cx="354.3" cy="1079" r="0.7" fill="#000"/><circle cx="376.4" cy="1080.9" r="0.7" fill="#000"/><circle cx="361" cy="1086.4" r="0.7" fill="#000"/><circle cx="364" cy="1105.4" r="0.7" fill="#000"/><circle cx="317" cy="1125" r="0.7" fill="#000"/><circle cx="316.3" cy="1129.3" r="0.7" fill="#000"/><circle cx="343.3" cy="1126.2" r="0.7" fill="#000"/><circle cx="359.9" cy="1128.7" r="0.7" fill="#000"/><circle cx="344.5" cy="1134.8" r="0.7" fill="#000"/><circle cx="352.5" cy="1136.6" r="0.7" fill="#000"/><circle cx="42" cy="685" r="0.7" fill="#000"/><circle cx="193" cy="701" r="0.7" fill="#000"/><circle cx="574.7" cy="123.5" r="0.7" fill="#000"/><circle cx="683.4" cy="967.2" r="0.7" fill="#000"/><circle cx="747" cy="983" r="0.7" fill="#000"/>
</svg></body></html>
